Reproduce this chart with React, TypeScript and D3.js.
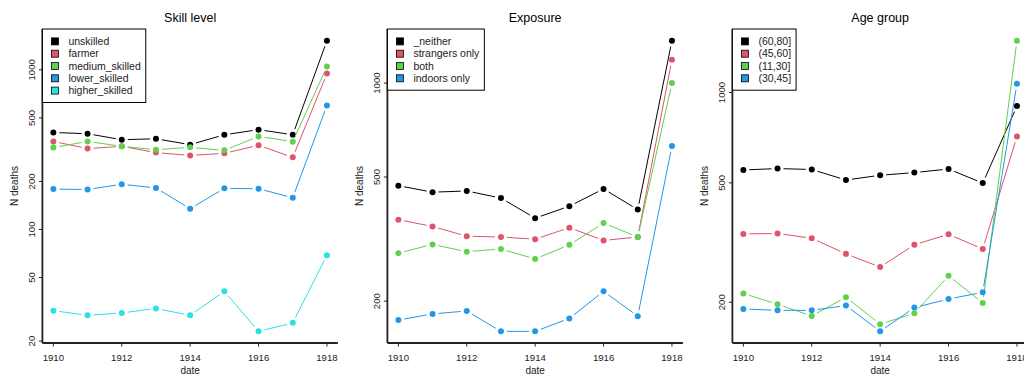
import React from 'react';
import * as d3 from 'd3';

const years = [1910, 1911, 1912, 1913, 1914, 1915, 1916, 1917, 1918];
const xTicks = [1910, 1912, 1914, 1916, 1918];

// Skill level
const skillNames = ['unskilled', 'farmer', 'medium_skilled', 'lower_skilled', 'higher_skilled'];
const unskilled = [405, 398, 365, 370, 340, 392, 422, 392, 1524];
const farmer = [356, 321, 332, 303, 291, 300, 337, 283, 948];
const mediumSkilled = [326, 356, 332, 316, 327, 313, 383, 355, 1049];
const lowerSkilled = [179, 178, 192, 182, 135, 181, 180, 158, 598];
const higherSkilled = [31, 29, 30, 32, 29, 41, 23, 26, 69];
const skillTicks = [20, 50, 100, 200, 500, 1000];

// Exposure
const exposureNames = ['_neither', 'strangers only', 'both', 'indoors only'];
const neither = [469, 447, 451, 428, 369, 403, 458, 393, 1368];
const strangersOnly = [365, 347, 323, 321, 316, 344, 313, 321, 1189];
const both = [285, 304, 288, 294, 273, 303, 356, 321, 1000];
const indoorsOnly = [174, 182, 186, 160, 160, 176, 215, 179, 629];
const exposureTicks = [200, 500, 1000];

// Age group
const ageNames = ['(60,80]', '(45,60]', '(11,30]', '(30,45]'];
const age6080 = [552, 558, 554, 511, 530, 541, 556, 499, 901];
const age4560 = [338, 339, 327, 290, 262, 311, 337, 301, 714];
const age1130 = [214, 197, 180, 208, 169, 184, 245, 199, 1489];
const age3045 = [190, 188, 188, 195, 160, 192, 205, 216, 1069];
const ageTicks = [200, 500, 1000];

const palette = ['#000000', '#DF536B', '#61D04F', '#2297E6', '#28E2E5'];
const FONT = '"Liberation Sans", Arial, Helvetica, sans-serif';

const panels = [
  { title: 'Skill level', names: skillNames, series: [unskilled, farmer, mediumSkilled, lowerSkilled, higherSkilled], ticks: skillTicks },
  { title: 'Exposure', names: exposureNames, series: [neither, strangersOnly, both, indoorsOnly], ticks: exposureTicks },
  { title: 'Age group', names: ageNames, series: [age6080, age4560, age1130, age3045], ticks: ageTicks },
];

const top = 29;
const bottom = 343;
const plotW = 295.5;
const firstLeft = 42.4;
const step = 345;

let measureCtx: CanvasRenderingContext2D | null = null;
const textWidth = (s: string, size: number) => {
  if (!measureCtx) measureCtx = document.createElement('canvas').getContext('2d');
  if (!measureCtx) return s.length * size * 0.55;
  measureCtx.font = `${size}px ${FONT}`;
  return measureCtx.measureText(s).width;
};

const Panel = ({ p, left }: { p: typeof panels[0]; left: number }) => {
  const right = left + plotW;
  const xPad = (years[years.length - 1] - years[0]) * 0.04;
  const x = d3.scaleLinear().domain([years[0] - xPad, years[years.length - 1] + xPad]).range([left, right]);

  const all = p.series.flat();
  const lo = Math.log10(d3.min(all) as number);
  const hi = Math.log10(d3.max(all) as number);
  const yPad = (hi - lo) * 0.04;
  const y = d3.scaleLog().domain([Math.pow(10, lo - yPad), Math.pow(10, hi + yPad)]).range([bottom, top]);

  const gap = 6;
  const legendRowH = 12.3;
  const legendText = 10.5;
  const maxW = d3.max(p.names, n => textWidth(n, legendText)) as number;
  const legW = 26 + maxW + 5;
  const legH = p.names.length * legendRowH + 12;

  return (
    <g>
      <text x={(left + right) / 2} y={21.5} textAnchor="middle" fontSize={12.5} fill="#000">{p.title}</text>

      {p.series.map((vals, si) => (
        <g key={si}>
          {vals.slice(1).map((v, i) => {
            const x0 = x(years[i]), y0 = y(vals[i]);
            const x1 = x(years[i + 1]), y1 = y(v);
            const len = Math.hypot(x1 - x0, y1 - y0);
            if (len <= 2 * gap) return null;
            const ux = (x1 - x0) / len, uy = (y1 - y0) / len;
            return (
              <line key={i} x1={x0 + ux * gap} y1={y0 + uy * gap} x2={x1 - ux * gap} y2={y1 - uy * gap}
                stroke={palette[si]} strokeWidth={1} />
            );
          })}
          {vals.map((v, i) => (
            <circle key={i} cx={x(years[i])} cy={y(v)} r={3} fill={palette[si]} />
          ))}
        </g>
      ))}

      <line x1={left} y1={top} x2={left} y2={bottom} stroke="#222" strokeWidth={1.8} />
      <line x1={left} y1={bottom} x2={right} y2={bottom} stroke="#222" strokeWidth={1.8} />

      {p.ticks.map(t => (
        <g key={t}>
          <line x1={left - 3.5} y1={y(t)} x2={left} y2={y(t)} stroke="#222" strokeWidth={1} />
          <text transform={`translate(${left - 7.5},${y(t)}) rotate(-90)`} textAnchor="middle" fontSize={9.6} fill="#222">{t}</text>
        </g>
      ))}
      {xTicks.map(t => (
        <g key={t}>
          <line x1={x(t)} y1={bottom} x2={x(t)} y2={bottom + 3.5} stroke="#222" strokeWidth={1} />
          <text x={x(t)} y={360.5} textAnchor="middle" fontSize={9.6} fill="#222">{t}</text>
        </g>
      ))}
      <text x={(left + right) / 2} y={374} textAnchor="middle" fontSize={10} fill="#222">date</text>
      <text transform={`translate(${left - 24},${(top + bottom) / 2}) rotate(-90)`} textAnchor="middle" fontSize={10} fill="#222">N deaths</text>

      <rect x={left} y={top} width={legW} height={legH} fill="#fff" stroke="#000" strokeWidth={1} />
      {p.names.map((n, i) => {
        const cy = top + 12.4 + i * legendRowH;
        return (
          <g key={n}>
            <rect x={left + 12.5 - 3.5} y={cy - 3.5} width={7} height={7} fill={palette[i]} stroke="#000" strokeWidth={0.8} />
            <text x={left + 26} y={cy + 3.7} fontSize={legendText} fill="#222">{n}</text>
          </g>
        );
      })}
    </g>
  );
};

export default function App() {
  return (
    <svg width={1024} height={377} style={{ position: 'absolute', left: 0, top: 0, background: '#fff' }}
      fontFamily={FONT}>
      {panels.map((p, i) => (
        <Panel key={p.title} p={p} left={firstLeft + i * step} />
      ))}
    </svg>
  );
}
